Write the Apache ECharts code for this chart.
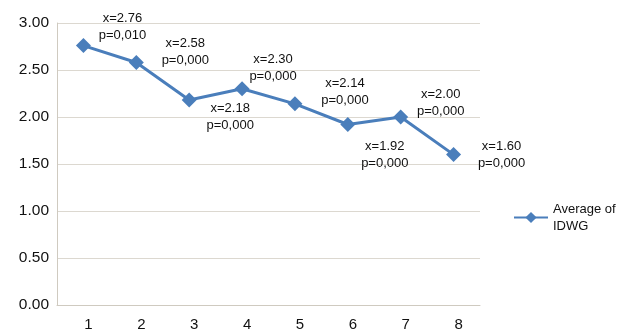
<!DOCTYPE html>
<html>
<head>
<meta charset="utf-8">
<script src="https://cdn.jsdelivr.net/npm/echarts@6/dist/echarts.min.js"></script>
<style>
  html, body { margin: 0; padding: 0; background: #fff; }
  #chart { width: 625px; height: 332px; }
</style>
</head>
<body>
<div id="chart"></div>
<script>
// Weekly measurement points and the mean IDWG with its p-value
const categories = ['1', '2', '3', '4', '5', '6', '7', '8'];
const meanIdwg = [2.76, 2.58, 2.18, 2.30, 2.14, 1.92, 2.00, 1.60];
const pValues = ['0,010', '0,000', '0,000', '0,000', '0,000', '0,000', '0,000', '0,000'];
const seriesName = 'Average of\nIDWG';

// Where each annotation sits relative to its marker (pixels)
const labelOffsets = [[39, -19], [49, -11], [41, 17], [31, -21], [50, -12], [37, 30], [40, -14], [48, 0]];

const blue = '#4a7ebb';
const gridColor = '#dcd8d0';

const seriesData = meanIdwg.map((v, i) => ({
  value: v,
  label: {
    formatter: 'x=' + v.toFixed(2) + '\np=' + pValues[i],
    offset: labelOffsets[i]
  }
}));

const chart = echarts.init(document.getElementById('chart'), null, { renderer: 'canvas' });
chart.setOption({
  animation: false,
  backgroundColor: '#fff',
  grid: { left: 57, right: 145, top: 23, bottom: 24, containLabel: false },
  legend: {
    show: true,
    left: 508,
    top: 187,
    orient: 'vertical',
    itemWidth: 34,
    itemHeight: 14,
    itemGap: 4,
    data: [seriesName],
    textStyle: {
      fontFamily: 'Liberation Sans, Arial, sans-serif',
      fontSize: 13,
      lineHeight: 17,
      color: '#111',
      padding: [17, 0, 0, 0]
    }
  },
  xAxis: {
    type: 'category',
    data: categories,
    boundaryGap: true,
    axisLine: { show: true, lineStyle: { color: '#cfcac0', width: 1 } },
    axisTick: { show: false },
    axisLabel: {
      fontFamily: 'Liberation Sans, Arial, sans-serif',
      fontSize: 15,
      color: '#111',
      margin: 12,
      padding: [0, 0, 0, 10]
    },
    splitLine: { show: false }
  },
  yAxis: {
    type: 'value',
    min: 0,
    max: 3,
    interval: 0.5,
    axisLine: { show: true, lineStyle: { color: '#cfcac0', width: 1 } },
    axisTick: { show: false },
    axisLabel: {
      fontFamily: 'Liberation Sans, Arial, sans-serif',
      fontSize: 15.5,
      color: '#111',
      margin: 8,
      formatter: v => v.toFixed(2)
    },
    splitLine: { show: true, lineStyle: { color: gridColor, width: 1 } }
  },
  series: [{
    name: seriesName,
    type: 'line',
    data: seriesData,
    symbol: 'diamond',
    symbolSize: 15,
    lineStyle: { color: blue, width: 3 },
    itemStyle: { color: blue },
    label: {
      show: true,
      position: 'inside',
      align: 'center',
      verticalAlign: 'middle',
      fontFamily: 'Liberation Sans, Arial, sans-serif',
      fontSize: 13,
      lineHeight: 17,
      color: '#111'
    }
  }]
});
</script>
</body>
</html>
